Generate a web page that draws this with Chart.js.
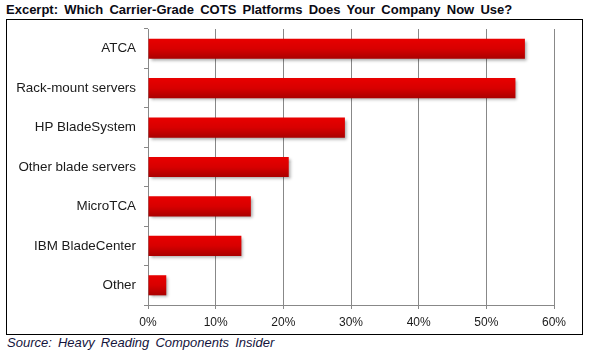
<!DOCTYPE html>
<html>
<head>
<meta charset="utf-8">
<script src="https://cdn.jsdelivr.net/npm/chart.js@4/dist/chart.umd.min.js"></script>
<style>
  html, body { margin: 0; padding: 0; background: #fff; }
  body { width: 595px; height: 357px; position: relative; overflow: hidden; font-family: "Liberation Sans", Arial, sans-serif; }
  #title { position: absolute; left: 6px; top: 2px; font-weight: bold; font-size: 13px; color: #0a0a14; word-spacing: 2.6px; white-space: nowrap; }
  #box { position: absolute; left: 6px; top: 19px; width: 577px; height: 316px; border: 1px solid #000; box-sizing: border-box; }
  #wrap { position: absolute; left: 0; top: 0; width: 575px; height: 314px; }
  #source { position: absolute; left: 7px; top: 335px; font-style: italic; font-size: 13px; color: #14143c; word-spacing: 2.5px; white-space: nowrap; }
</style>
</head>
<body>
<div id="title">Excerpt: Which Carrier-Grade COTS Platforms Does Your Company Now Use?</div>
<div id="box"><div id="wrap"><canvas id="c" width="575" height="314"></canvas></div></div>
<div id="source">Source: Heavy Reading Components Insider</div>
<script>
const categories = ["ATCA", "Rack-mount servers", "HP BladeSystem", "Other blade servers", "MicroTCA", "IBM BladeCenter", "Other"];
const usage = [55.7, 54.3, 29.1, 20.8, 15.2, 13.8, 2.7];
const xTicks = [0, 10, 20, 30, 40, 50, 60];

const shadowPlugin = {
  id: 'barShadow',
  beforeDatasetsDraw(chart) {
    const ctx = chart.ctx;
    ctx.save();
    ctx.shadowColor = 'rgba(0,0,0,0.35)';
    ctx.shadowOffsetX = 2;
    ctx.shadowOffsetY = 2;
    ctx.shadowBlur = 3;
  },
  afterDatasetsDraw(chart) {
    chart.ctx.restore();
  }
};

function barFill(context) {
  const chart = context.chart;
  const ys = chart.scales.y;
  if (!chart.chartArea || !ys || context.dataIndex === undefined) return '#D00000';
  const yc = ys.getPixelForValue(context.dataIndex);
  const half = 10;
  const g = chart.ctx.createLinearGradient(0, yc - half, 0, yc + half);
  g.addColorStop(0, '#E80000');
  g.addColorStop(0.5, '#D80000');
  g.addColorStop(1, '#AA0000');
  return g;
}

new Chart(document.getElementById('c'), {
  type: 'bar',
  data: {
    labels: categories,
    datasets: [{
      data: usage,
      backgroundColor: barFill,
      borderWidth: 0,
      barPercentage: 0.51,
      categoryPercentage: 1.0
    }]
  },
  options: {
    indexAxis: 'y',
    responsive: false,
    animation: false,
    devicePixelRatio: 1,
    layout: { padding: { top: 9, right: 28, bottom: 0, left: 0 } },
    plugins: { legend: { display: false }, tooltip: { enabled: false } },
    scales: {
      x: {
        min: 0, max: 60,
        afterBuildTicks(scale) { scale.ticks = xTicks.map(v => ({ value: v })); },
        afterFit(scale) { scale.height = 29; },
        grid: { color: '#888888', lineWidth: 1, tickLength: 4, drawTicks: true },
        border: { color: '#888888', width: 1 },
        ticks: {
          callback: v => v + '%',
          color: '#1a1a1a',
          font: { family: '"Liberation Sans", Arial, sans-serif', size: 12 },
          padding: 6,
          maxRotation: 0
        }
      },
      y: {
        afterFit(scale) { scale.width = 141; scale.paddingTop = 0; scale.paddingBottom = 0; },
        grid: { offset: true, drawOnChartArea: false, color: '#888888', tickLength: 4 },
        border: { color: '#888888', width: 1 },
        ticks: {
          color: '#1a1a1a',
          font: { family: '"Liberation Sans", Arial, sans-serif', size: 13.4 },
          padding: 8
        }
      }
    }
  },
  plugins: [shadowPlugin]
});
</script>
</body>
</html>
